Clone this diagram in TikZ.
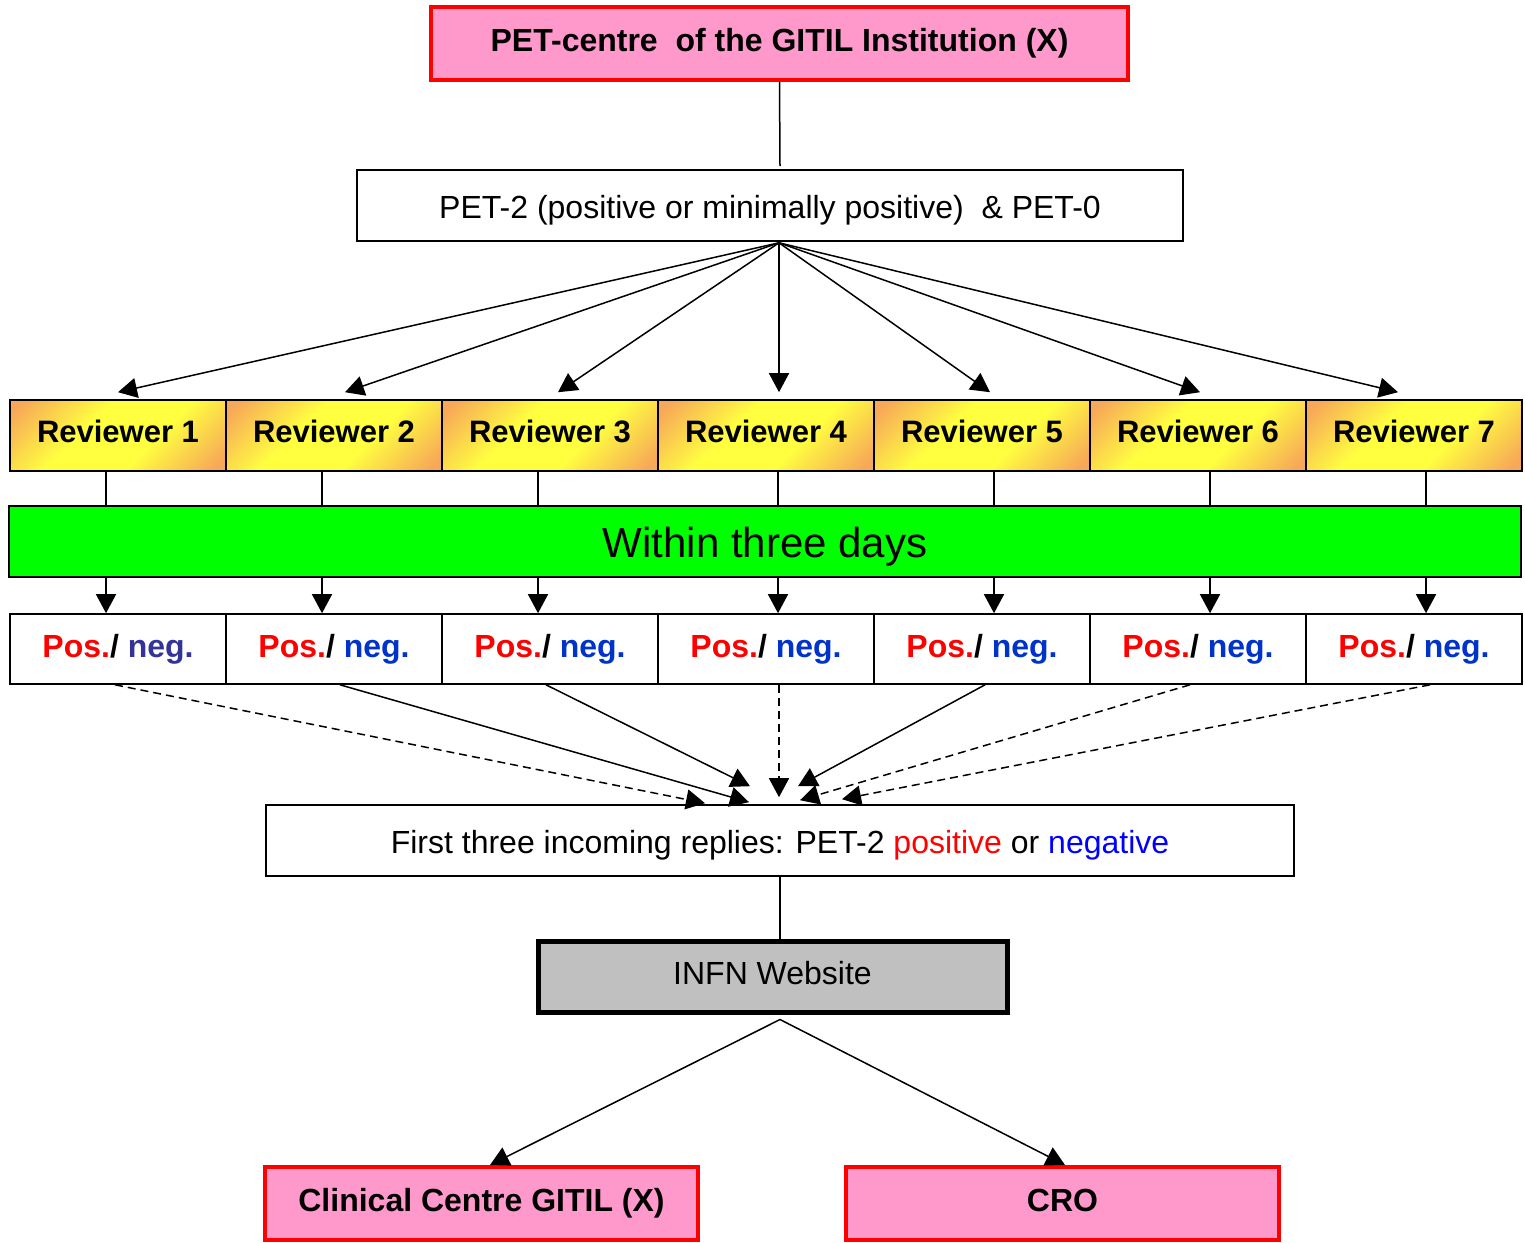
\documentclass[tikz,border=0pt]{standalone}
\usepackage{fontspec}
\setmainfont{Liberation Sans}
\usetikzlibrary{arrows.meta,calc}
\definecolor{pinkf}{RGB}{255,153,204}
\definecolor{orng}{RGB}{247,168,88}
\definecolor{yel}{RGB}{255,255,64}
\definecolor{grn}{RGB}{0,255,0}
\definecolor{negA}{RGB}{51,51,153}
\definecolor{negB}{RGB}{0,51,204}
\definecolor{grayf}{RGB}{192,192,192}
\pgfdeclarehorizontalshading{revshade}{100bp}{color(0bp)=(orng); color(18bp)=(orng); color(40bp)=(yel); color(60bp)=(yel); color(82bp)=(orng); color(100bp)=(orng)}
\begin{document}
\begin{tikzpicture}[x=0.5pt,y=-0.5pt,
  box/.style={draw, line width=0.8pt, inner sep=0pt, align=center, font=\fontsize{16}{19}\selectfont},
  redbox/.style={box, draw=red, line width=2pt, fill=pinkf, font=\bfseries\fontsize{16}{19}\selectfont},
  revbox/.style={box, shade, shading=revshade, shading angle=-45, minimum width=108pt, minimum height=35.5pt, text height=6.5pt, text depth=0pt, font=\bfseries\fontsize{15.5}{19}\selectfont},
  pnbox/.style={box, fill=white, minimum width=108pt, minimum height=35pt, font=\bfseries\fontsize{16}{19}\selectfont},
  conn/.style={line width=0.75pt},
  arr/.style={conn, -{Triangle[length=9.5pt,width=10pt]}},
  dsh/.style={dash pattern=on 4pt off 2.5pt}
]
\useasboundingbox (0,0) rectangle (1525,1242);

\node[redbox, minimum width=348.5pt, minimum height=36.5pt] (top) at (779.5,43.5) {PET-centre\ \ of the GITIL Institution (X)};
\node[box, minimum width=413pt, minimum height=35.5pt, text height=13pt, text depth=0pt] (pet) at (770,205.5) {PET-2 (positive or minimally positive)\ \ \& PET-0};

\foreach \i in {1,...,7} {
  \node[revbox] (r\i) at ({118+216*(\i-1)},435.5) {Reviewer \i};
}
\node[box, fill=grn, minimum width=756pt, minimum height=35.5pt, text height=16pt, text depth=0pt, font=\fontsize{21}{25}\selectfont] (days) at (765,541.5) {Within three days};
\node[pnbox] (p1) at (118,649) {\textcolor{red}{Pos.}/ \textcolor{negA}{neg.}};
\foreach \i in {2,...,7} {
  \node[pnbox] (p\i) at ({118+216*(\i-1)},649) {\textcolor{red}{Pos.}/ \textcolor{negB}{neg.}};
}
\node[box, minimum width=514pt, minimum height=35.5pt, text height=13pt, text depth=0pt] (first) at (780,840.5) {First three incoming replies: PET-2 \textcolor{red}{positive} or \textcolor{blue}{negative}};
\node[box, line width=2.5pt, fill=grayf, minimum width=234.5pt, minimum height=35.5pt, text height=8pt, text depth=0pt] (infn) at (772.5,976.5) {INFN Website};
\node[redbox, minimum width=216.5pt, minimum height=36.5pt] (clin) at (481.5,1203.5) {Clinical Centre GITIL (X)};
\node[redbox, minimum width=216.5pt, minimum height=36.5pt, text height=8pt, text depth=0pt] (cro) at (1062.5,1203.5) {CRO};

% top link
\draw[conn] (top.south) -- ($(pet.north)+(10,-3)$);
\coordinate (hub) at ($(pet.south)+(9,1)$);
\foreach \i/\dx in {1/0,2/11,3/8,4/13,5/8,6/2,7/-16} {
  \draw[arr] (hub) -- ($(r\i.north)+(\dx,-7)$);
}
\foreach \i/\dx in {1/-12,2/-12,3/-12,4/12,5/12,6/12,7/12} {
  \coordinate (v\i) at ($(r\i.south)+(\dx,0)$);
  \draw[conn] (v\i) -- (v\i |- days.north);
  \draw[arr] (v\i |- days.south) -- (v\i |- p\i.north);
}
% replies
\draw[arr,dsh] ($(p1.south)+(-3,0)$) -- ($(first.north)+(-75,-1)$);
\draw[arr] ($(p2.south)+(6,0)$) -- ($(first.north)+(-31,-2)$);
\draw[arr] ($(p3.south)+(-4,0)$) -- ($(first.north)+(-30,-18)$);
\draw[arr,dsh] ($(p4.south)+(13,0)$) -- ($(first.north)+(-1,-7)$);
\draw[arr] ($(p5.south)+(3,0)$) -- ($(first.north)+(18,-18)$);
\draw[arr,dsh] ($(p6.south)+(-8,0)$) -- ($(first.north)+(20,-4)$);
\draw[arr,dsh] ($(p7.south)+(16,0)$) -- ($(first.north)+(62,-5)$);
% bottom
\draw[conn] (first.south) -- (first.south |- infn.north);
\coordinate (fork) at ($(infn.south)+(7.5,5)$);
\draw[arr] (fork) -- ($(clin.north)+(8.5,0)$);
\draw[arr] (fork) -- ($(cro.north)+(2.5,0)$);
\end{tikzpicture}
\end{document}
